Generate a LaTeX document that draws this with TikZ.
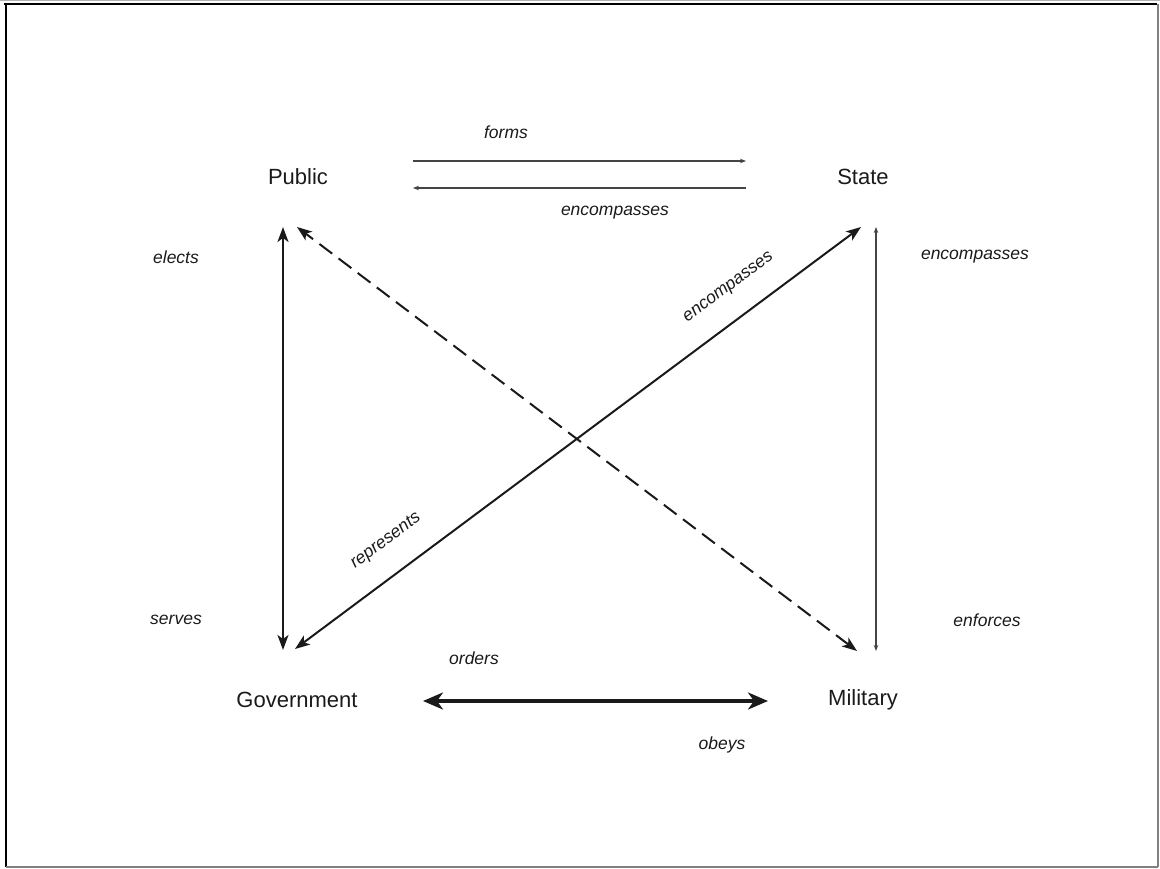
\documentclass[tikz,border=0pt]{standalone}
\usepackage{fontspec}
\setmainfont{Liberation Sans}
\usetikzlibrary{arrows.meta}
\definecolor{ink}{HTML}{1A1A1A}
\definecolor{thin}{HTML}{444444}
\begin{document}
\begin{tikzpicture}[x=1pt,y=-1pt,
  entity/.style={text=ink,inner sep=0pt,font=\fontsize{22}{26}\selectfont},
  lbl/.style={text=ink,inner sep=0pt,font=\fontsize{17.5}{21}\selectfont\itshape},
  thinarrow/.style={draw=thin,line width=1.1pt,-{Stealth[length=6pt,width=4.5pt]}},
  thinboth/.style={draw=thin,line width=1.1pt,{Stealth[length=6pt,width=4.5pt]}-{Stealth[length=6pt,width=4.5pt]}},
  medboth/.style={draw=ink,line width=2pt,{Stealth[length=15pt,width=11pt,inset=4pt]}-{Stealth[length=15pt,width=11pt,inset=4pt]}},
  thickboth/.style={draw=ink,line width=3.2pt,{Stealth[length=20pt,width=17pt,inset=6pt]}-{Stealth[length=20pt,width=17pt,inset=6pt]}},
  dashboth/.style={medboth,dash pattern=on 16pt off 8pt}]
\useasboundingbox (0,0) rectangle (1160,869);
% frame
\draw[gray!60,line width=1pt] (0,1) -- (1160,1);
\draw[black,line width=2.5pt] (4,4) -- (1157,4);
\draw[black,line width=2.5pt] (6,4) -- (6,867);
\draw[gray,line width=1.5pt] (1158,4) -- (1158,867);
\draw[gray,line width=1.5pt] (6,867) -- (1158,867);
% entities
\node[entity] (pub) at (298,177) {Public};
\node[entity] (sta) at (863,177) {State};
\node[entity] (gov) at (297,700) {Government};
\node[entity] (mil) at (863,700) {Military};
% arrow end points
\coordinate (fA) at (413,161); \coordinate (fB) at (746,161);
\coordinate (eA) at (746,188); \coordinate (eB) at (413,188);
\coordinate (pgA) at (283,227); \coordinate (pgB) at (283,650);
\coordinate (mpA) at (857,651); \coordinate (mpB) at (297,227);
\coordinate (gsA) at (295,649); \coordinate (gsB) at (861,227);
\coordinate (smA) at (876,227); \coordinate (smB) at (876,651);
\coordinate (gmA) at (423,701); \coordinate (gmB) at (768,701);
% connectors
\draw[thinarrow] (fA) -- (fB);
\draw[thinarrow] (eA) -- (eB);
\draw[medboth] (pgA) -- (pgB);
\draw[dashboth] (mpA) -- (mpB);
\draw[medboth] (gsA) -- (gsB);
\draw[thinboth] (smA) -- (smB);
\draw[thickboth] (gmA) -- (gmB);
% labels
\node[lbl] (lforms) at (506,132) {forms};
\node[lbl] (lenc1) at (615,213) {encompasses};
\node[lbl] (lelects) at (176,257) {elects};
\node[lbl] (lenc2) at (975,257) {encompasses};
\node[lbl] (lserves) at (176,620) {serves};
\node[lbl] (lenf) at (987,620) {enforces};
\node[lbl] (lorders) at (474,658) {orders};
\node[lbl] (lobeys) at (722,745) {obeys};
\node[lbl,rotate=36.7] (lenc3) at (729,288) {encompasses};
\node[lbl,rotate=36.7] (lrep) at (386,541) {represents};
\end{tikzpicture}
\end{document}
